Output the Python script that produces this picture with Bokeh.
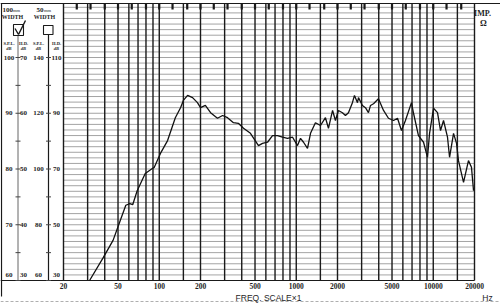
from bokeh.plotting import figure
from bokeh.models import Range1d
from bokeh.embed import file_html
from bokeh.resources import INLINE
from bokeh.core.properties import value

# ---------------- data ----------------
freq_hz = [31, 39, 46, 52, 57, 61, 64, 69, 79, 89, 92, 102, 115, 131, 143, 150,
           161, 175, 190, 200, 217, 237, 266, 290, 315, 348, 378, 412, 463, 530,
           567, 617, 671, 730, 794, 863, 940, 1021, 1074, 1130, 1208, 1271, 1380,
           1503, 1633, 1718, 1841, 1932, 2032, 2173, 2286, 2404, 2570, 2660, 2799,
           2845, 3042, 3199, 3365, 3483, 3664, 3981, 4335, 4710, 5129, 5483, 5861,
           6266, 6934, 7178, 7798, 8492, 9079, 9397, 10046, 10740, 11298, 11885,
           12706, 13153, 14061, 14791, 15276, 16635, 18072, 19011, 19680]
spl_db = [60.0, 64.1, 67.2, 70.8, 73.5, 73.8, 73.6, 76.1, 79.2, 80.1, 80.3, 82.8,
          85.1, 89.2, 91.0, 92.3, 93.2, 92.8, 91.9, 91.0, 91.4, 90.1, 89.1, 89.6,
          89.2, 88.3, 88.2, 87.3, 86.4, 84.2, 84.6, 84.8, 86.0, 86.0, 85.7, 85.5,
          85.7, 84.2, 85.5, 84.8, 83.7, 86.4, 88.3, 87.8, 89.2, 87.3, 90.5, 88.7,
          90.5, 90.1, 89.6, 90.1, 91.9, 93.2, 91.9, 92.8, 91.4, 91.0, 90.1, 91.4,
          91.7, 92.6, 90.5, 89.1, 88.7, 89.1, 86.9, 88.7, 91.9, 90.0, 86.0, 84.8,
          82.1, 86.4, 90.9, 90.1, 86.9, 88.7, 85.7, 82.1, 86.4, 84.6, 81.5, 77.6,
          81.5, 80.3, 76.1]

x_tick_labels = [20, 50, 100, 200, 500, 1000, 2000, 5000, 10000, 20000]
grid_freqs = [20, 30, 40, 50, 60, 70, 80, 90, 100, 150,
              200, 300, 400, 500, 600, 700, 800, 900, 1000, 1500,
              2000, 3000, 4000, 5000, 6000, 7000, 8000, 9000, 10000, 15000, 20000]
third_octave = [25, 31.5, 40, 50, 63, 80, 100, 125, 160, 200, 250, 315, 400, 500,
                630, 800, 1000, 1250, 1600, 2000, 2500, 3150, 4000, 5000, 6300,
                8000, 10000, 12500, 16000]
spl_100mm = [100, 90, 80, 70, 60]
hd_100mm = [70, 60, 50, 40, 30]
spl_50mm = [140, 120, 100, 80, 60]
hd_50mm = [110, 90, 70, 50, 30]
db_min, db_max = 60, 109

# ---------------- layout (pixels) ----------------
W, H = 500, 304
L, R, B = 63, 474, 280
PX_DEC = (R - L) / 3.0
PX_DB = (B - 57) / 40.0


def fx(px):
    return 20 * 10 ** ((px - L) / PX_DEC)


def fy(py):
    return 60 + (B - py) / PX_DB


p = figure(width=W, height=H, x_axis_type="log",
           x_range=Range1d(fx(0), fx(W)), y_range=Range1d(fy(H), fy(0)),
           x_axis_location=None, y_axis_location=None,
           min_border=0, toolbar_location=None, output_backend="svg",
           background_fill_color="white", border_fill_color="white")
p.outline_line_color = None
p.grid.visible = False

INK = "#1a1a1a"
TXT = "#1e1e1e"
serif = value("Liberation Serif")
sans = value("Liberation Sans")

# horizontal 1 dB grid
hdb = list(range(db_min + 1, db_max + 1))
p.segment(x0=[20] * len(hdb), x1=[20000] * len(hdb), y0=hdb, y1=hdb,
          line_color="#7c7c7c", line_width=0.7)
# bottom (60 dB) line across the whole width
p.segment(x0=[fx(0)], x1=[20000], y0=[db_min], y1=[db_min], line_color=INK, line_width=1.2)
# top border
p.segment(x0=[fx(0)], x1=[fx(W)], y0=[fy(3)], y1=[fy(3)], line_color=INK, line_width=1.2)
# vertical frequency grid
p.segment(x0=grid_freqs, x1=grid_freqs, y0=[db_min] * len(grid_freqs),
          y1=[fy(3)] * len(grid_freqs), line_color=INK, line_width=1.4)
# third-octave marks at the top
p.segment(x0=third_octave, x1=third_octave, y0=[fy(3)] * len(third_octave),
          y1=[fy(9)] * len(third_octave), line_color=INK, line_width=2.2)
# faint paper edge at the bottom
p.segment(x0=[fx(0)], x1=[fx(W)], y0=[fy(301)], y1=[fy(301)],
          line_color="#9a9a9a", line_width=0.8, line_dash="3 2")

# left panel lines
p.segment(x0=[fx(1)], x1=[fx(1)], y0=[fy(3)], y1=[fy(296)], line_color=INK, line_width=1.2)
p.segment(x0=[fx(17.5)], x1=[fx(17.5)], y0=[fy(35)], y1=[db_min], line_color="#555", line_width=0.9)
p.segment(x0=[fx(48)], x1=[fx(48)], y0=[fy(34)], y1=[db_min], line_color=INK, line_width=1.2)
tick_db = [v for v in range(60, 101, 5)]
p.segment(x0=[fx(15)] * len(tick_db), x1=[fx(20)] * len(tick_db), y0=tick_db, y1=tick_db,
          line_color="#444", line_width=1)
p.segment(x0=[fx(45.5)] * len(tick_db), x1=[fx(50.5)] * len(tick_db), y0=tick_db, y1=tick_db,
          line_color="#444", line_width=1)

# check boxes
p.quad(left=[fx(13)], right=[fx(23)], top=[fy(24)], bottom=[fy(35)],
       fill_color=None, line_color=INK, line_width=1.1)
p.quad(left=[fx(43)], right=[fx(52.5)], top=[fy(25)], bottom=[fy(34)],
       fill_color=None, line_color=INK, line_width=1.1)
p.line([fx(14.5), fx(18), fx(25)], [fy(28), fy(34), fy(20)], line_color=INK, line_width=1.4)

# header texts
p.text(x=[fx(2)], y=[fy(9)], text=["100"], text_font=serif, text_font_style="bold",
       text_font_size="7px", text_baseline="middle", text_align="left", text_color=TXT)
p.text(x=[fx(12.5)], y=[fy(10)], text=["mm"], text_font=serif, text_font_size="4.5px",
       text_baseline="middle", text_align="left", text_color=TXT)
p.text(x=[fx(36)], y=[fy(9)], text=["50"], text_font=serif, text_font_style="bold",
       text_font_size="7px", text_baseline="middle", text_align="left", text_color=TXT)
p.text(x=[fx(43.5)], y=[fy(10)], text=["mm"], text_font=serif, text_font_size="4.5px",
       text_baseline="middle", text_align="left", text_color=TXT)
p.text(x=[fx(12), fx(44)], y=[fy(16.5)] * 2, text=["WIDTH", "WIDTH"], text_font=serif,
       text_font_style="bold", text_font_size="6px", text_baseline="middle",
       text_align="center", text_color=TXT)
col_x = [fx(8.5), fx(23), fx(38), fx(56)]
p.text(x=col_x, y=[fy(43)] * 4, text=["S.P.L.", "H.D.", "S.P.L.", "H.D."], text_font=serif,
       text_font_style="bold", text_font_size="4.5px", text_baseline="middle",
       text_align="center", text_color=TXT)
p.text(x=col_x, y=[fy(48)] * 4, text=["dB"] * 4, text_font=serif, text_font_style="bold italic",
       text_font_size="4.5px", text_baseline="middle", text_align="center", text_color=TXT)

# left scale labels (positioned on the main dB scale; bottom row lifted to fit)
row_y = [v if v > db_min else v + 1.0 for v in spl_100mm]
for cx, col in zip(col_x, [spl_100mm, hd_100mm, spl_50mm, hd_50mm]):
    p.text(x=[cx] * len(col), y=row_y, text=[str(v) for v in col], text_font=serif,
           text_font_style="bold", text_font_size="7px", text_baseline="middle",
           text_align="center", text_color=TXT)

# x tick labels
p.text(x=x_tick_labels, y=[fy(285)] * len(x_tick_labels), text=[str(v) for v in x_tick_labels],
       text_font=serif, text_font_style="bold", text_font_size="7.5px",
       text_baseline="middle", text_align="center", text_color=TXT)
p.text(x=[fx(268)], y=[fy(297)], text=["FREQ. SCALE×1"], text_font=sans,
       text_font_size="8.5px", text_baseline="middle", text_align="center", text_color=TXT)
p.text(x=[fx(487)], y=[fy(297)], text=["Hz"], text_font=sans,
       text_font_size="8.5px", text_baseline="middle", text_align="center", text_color=TXT)
p.text(x=[fx(482)], y=[fy(13)], text=["IMP."], text_font=serif, text_font_style="bold",
       text_font_size="8px", text_baseline="middle", text_align="center", text_color=TXT)
p.text(x=[fx(483)], y=[fy(22)], text=["Ω"], text_font=serif, text_font_style="bold",
       text_font_size="8.5px", text_baseline="middle", text_align="center", text_color=TXT)

# response curve
p.line(freq_hz, spl_db, line_color="#111111", line_width=1.3)

open("out.html", "w").write(file_html(p, INLINE))
